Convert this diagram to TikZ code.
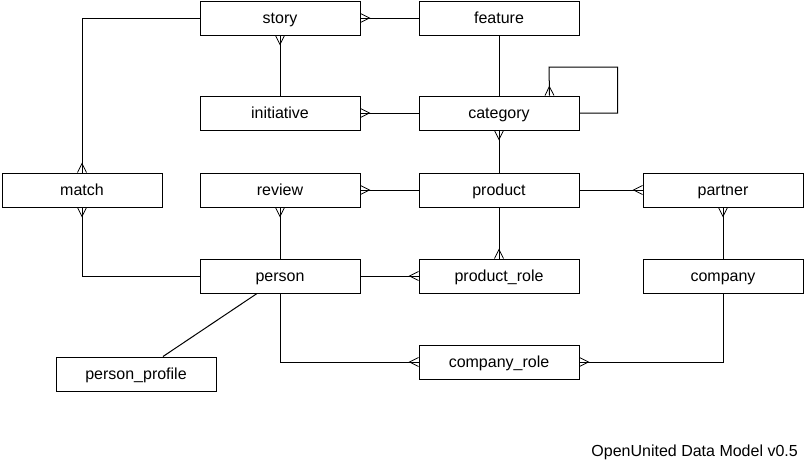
\documentclass[tikz,border=0pt]{standalone}
\usepackage{fontspec}
\setmainfont{Liberation Sans}
\usetikzlibrary{decorations.markings}
\begin{document}
\begin{tikzpicture}[x=1pt, y=-1pt,
  entity/.style={draw, line width=1pt, minimum width=160pt, minimum height=34pt,
    inner sep=0pt, text height=11.5pt, text depth=0pt,
    font=\fontsize{16}{19}\selectfont},
  link/.style={draw, line width=1pt},
  manyend/.style={postaction={decorate, decoration={markings,
    mark=at position 1 with {\draw[line width=0.8pt] (0pt,4.5pt) -- (-9pt,0pt) -- (0pt,-4.5pt);}}}},
  manystart/.style={postaction={decorate, decoration={markings,
    mark=at position 0 with {\draw[line width=0.8pt] (0pt,4.5pt) -- (9pt,0pt) -- (0pt,-4.5pt);}}}},
]
\fill[white] (0,0) rectangle (805,464);
\useasboundingbox (0,0) rectangle (805,464);

% entities
\node[entity] (story)         at (280,18)  {story};
\node[entity] (feature)       at (499,18)  {feature};
\node[entity] (initiative)    at (280,113) {initiative};
\node[entity] (category)      at (499,113) {category};
\node[entity] (match)         at (82,190)  {match};
\node[entity] (review)        at (280,190) {review};
\node[entity] (product)       at (499,190) {product};
\node[entity] (partner)       at (723,190) {partner};
\node[entity] (person)        at (280,276) {person};
\node[entity] (product_role)  at (499,276) {product\_role};
\node[entity] (company)       at (723,276) {company};
\node[entity] (person_profile) at (136,374) {person\_profile};
\node[entity] (company_role)  at (499,362) {company\_role};

% relationships
\draw[link, manystart] (story.east) -- (feature.west);
\draw[link, manyend] (story.west) -| (match.north);
\draw[link, manystart] (story.south) -- (initiative.north);
\draw[link, manystart] (initiative.east) -- (category.west);
\draw[link] (feature.south) -- (category.north);
\draw[link, manyend] (category.east) -- ++(38,0) |- (549,67)
  -- ([xshift=-30pt]category.north east);
\draw[link, manystart] (category.south) -- (product.north);
\draw[link, manystart] (review.east) -- (product.west);
\draw[link, manyend] (product.east) -- (partner.west);
\draw[link, manystart] (review.south) -- (person.north);
\draw[link, manyend] (product.south) -- (product_role.north);
\draw[link, manystart] (partner.south) -- (company.north);
\draw[link, manyend] (person.east) -- (product_role.west);
\draw[link, manyend] (person.west) -| (match.south);
\draw[link] ([xshift=-23pt]person.south) -- ([xshift=27pt]person_profile.north);
\draw[link, manyend] (person.south) |- (company_role.west);
\draw[link, manyend] (company.south) |- (company_role.east);

% caption
\node[anchor=base east, inner sep=0pt, font=\fontsize{16}{19}\selectfont] (caption)
  at (798,456) {OpenUnited Data Model v0.5};
\end{tikzpicture}
\end{document}
